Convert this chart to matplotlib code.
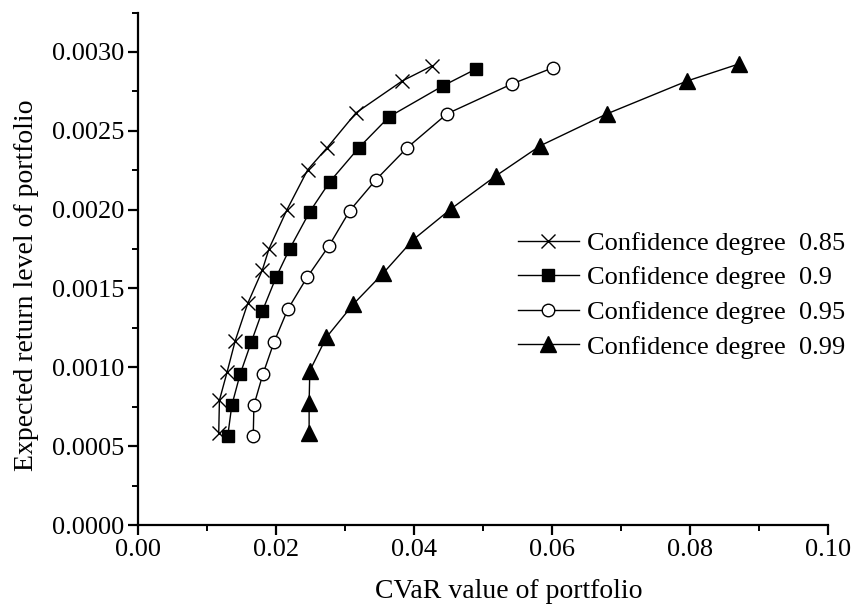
import numpy as np
import matplotlib
matplotlib.use('Agg')
import matplotlib.pyplot as plt
from matplotlib.ticker import MultipleLocator, FormatStrFormatter

# efficient frontier points (CVaR, expected return) for each confidence degree
cvar_085 = [0.0117, 0.0118, 0.0129, 0.0141, 0.0159, 0.0180, 0.0190, 0.0216,
            0.0246, 0.0274, 0.0316, 0.0383, 0.0426]
ret_085 = [0.000582, 0.000791, 0.000968, 0.00117, 0.001405, 0.001614, 0.001753,
           0.0020, 0.002253, 0.002392, 0.002614, 0.002816, 0.002911]

cvar_090 = [0.0130, 0.0136, 0.0148, 0.0164, 0.0180, 0.0200, 0.0220, 0.0249,
            0.0278, 0.0320, 0.0364, 0.0442, 0.0490]
ret_090 = [0.000563, 0.00076, 0.000956, 0.001158, 0.001354, 0.00157, 0.001753,
           0.001987, 0.002177, 0.002392, 0.002589, 0.002785, 0.002892]

cvar_095 = [0.0167, 0.0168, 0.0181, 0.0197, 0.0217, 0.0245, 0.0277, 0.0307,
            0.0345, 0.0390, 0.0448, 0.0542, 0.0601]
ret_095 = [0.000563, 0.00076, 0.000956, 0.001158, 0.001367, 0.00157, 0.001772,
           0.001994, 0.00219, 0.002392, 0.002608, 0.002797, 0.002899]

cvar_099 = [0.0248, 0.0248, 0.0249, 0.0273, 0.0312, 0.0355, 0.0399, 0.0454,
            0.0519, 0.0583, 0.0680, 0.0796, 0.0871]
ret_099 = [0.000585, 0.000775, 0.000978, 0.00119, 0.0014, 0.001595, 0.00181,
           0.002006, 0.002215, 0.002405, 0.002608, 0.002816, 0.002924]

labels = ['Confidence degree  0.85', 'Confidence degree  0.9',
          'Confidence degree  0.95', 'Confidence degree  0.99']

plt.rcParams['font.family'] = ['Liberation Serif', 'DejaVu Serif']
plt.rcParams['font.size'] = 20

fig = plt.figure(figsize=(8.54, 6.13), dpi=100)
ax = fig.add_axes([138 / 854, 1 - 525 / 613, 690 / 854, 512.5 / 613])

series = [
    (cvar_085, ret_085, dict(marker='x', markersize=10, markeredgewidth=1.0,
                             color='black')),
    (cvar_090, ret_090, dict(marker='s', markersize=8, color='black')),
    (cvar_095, ret_095, dict(marker='o', markersize=9, markerfacecolor='white',
                             markeredgecolor='black', markeredgewidth=1.0,
                             color='black')),
    (cvar_099, ret_099, dict(marker='^', markersize=11, color='black')),
]

for (x, y, style), lab in zip(series, labels):
    ax.plot(x, y, linewidth=1.0, label=lab, **style)

ax.set_xlim(0, 0.10)
ax.set_ylim(0, 0.00325)
ax.xaxis.set_major_locator(MultipleLocator(0.02))
ax.xaxis.set_minor_locator(MultipleLocator(0.01))
ax.yaxis.set_major_locator(MultipleLocator(0.0005))
ax.yaxis.set_minor_locator(MultipleLocator(0.00025))
ax.xaxis.set_major_formatter(FormatStrFormatter('%.2f'))
ax.yaxis.set_major_formatter(FormatStrFormatter('%.4f'))

for spine in ['top', 'right']:
    ax.spines[spine].set_visible(False)
for spine in ['left', 'bottom']:
    ax.spines[spine].set_linewidth(1.6)

ax.tick_params(which='major', direction='out', length=7, width=1.6,
               labelsize=19, pad=3)
ax.tick_params(which='minor', direction='out', length=4, width=1.4)

ax.set_xlabel('CVaR value of portfolio', fontsize=20, labelpad=12)
ax.xaxis.set_label_coords(0.538, -0.105)
ax.set_ylabel('Expected return level of portfolio', fontsize=20, labelpad=10)
ax.yaxis.set_label_coords(-0.143, 0.468)

ax.legend(loc='center left', bbox_to_anchor=(518 / 854, 1 - 295 / 613),
          bbox_transform=fig.transFigure, frameon=False, borderpad=0,
          borderaxespad=0, handlelength=2.3, handletextpad=0.3,
          labelspacing=0.42, fontsize=19)

fig.savefig('out.png', dpi=100)
